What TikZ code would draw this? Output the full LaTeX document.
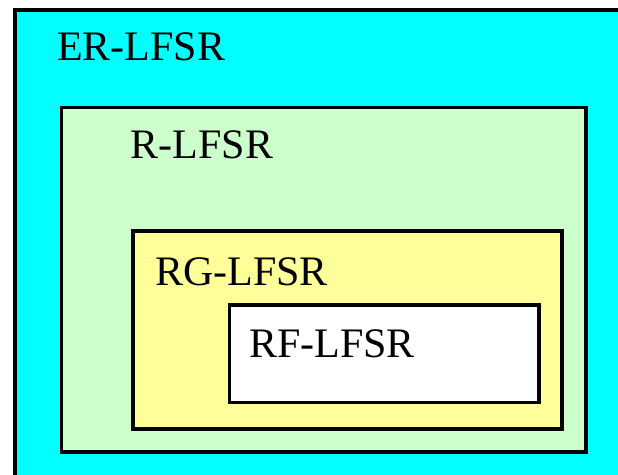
\documentclass[tikz,border=0pt]{standalone}
\usepackage{fontspec}
\setmainfont{Liberation Serif}
\usepackage{tikz}
\definecolor{erfill}{RGB}{0,255,255}
\definecolor{rfill}{RGB}{204,255,204}
\definecolor{rgfill}{RGB}{255,255,153}
\tikzset{
  box/.style={line width=3.6pt,draw=black},
  lbl/.style={anchor=base west,inner sep=0pt,font=\fontsize{42}{50}\selectfont}
}
\begin{document}
\begin{tikzpicture}[x=1pt,y=-1pt]
  \clip (0,0) rectangle (618,474);
  % ER-LFSR (outer, runs off the page)
  \draw[box,line width=4pt,fill=erfill] (15,9.5) rectangle (650,500);
  \node[lbl] (er) at (57,60) {ER-LFSR};

  % R-LFSR
  \draw[box,fill=rfill] (61.5,107.5) rectangle (586,452);
  \node[lbl] (r) at (130.5,158.3) {R-LFSR};

  % RG-LFSR
  \draw[box,fill=rgfill] (133,231) rectangle (562,429);
  \node[lbl] (rg) at (155,285.7) {RG-LFSR};

  % RF-LFSR
  \draw[box,fill=white] (229.5,305) rectangle (539,402.5);
  \node[lbl] (rf) at (249,357) {RF-LFSR};

\end{tikzpicture}
\end{document}
